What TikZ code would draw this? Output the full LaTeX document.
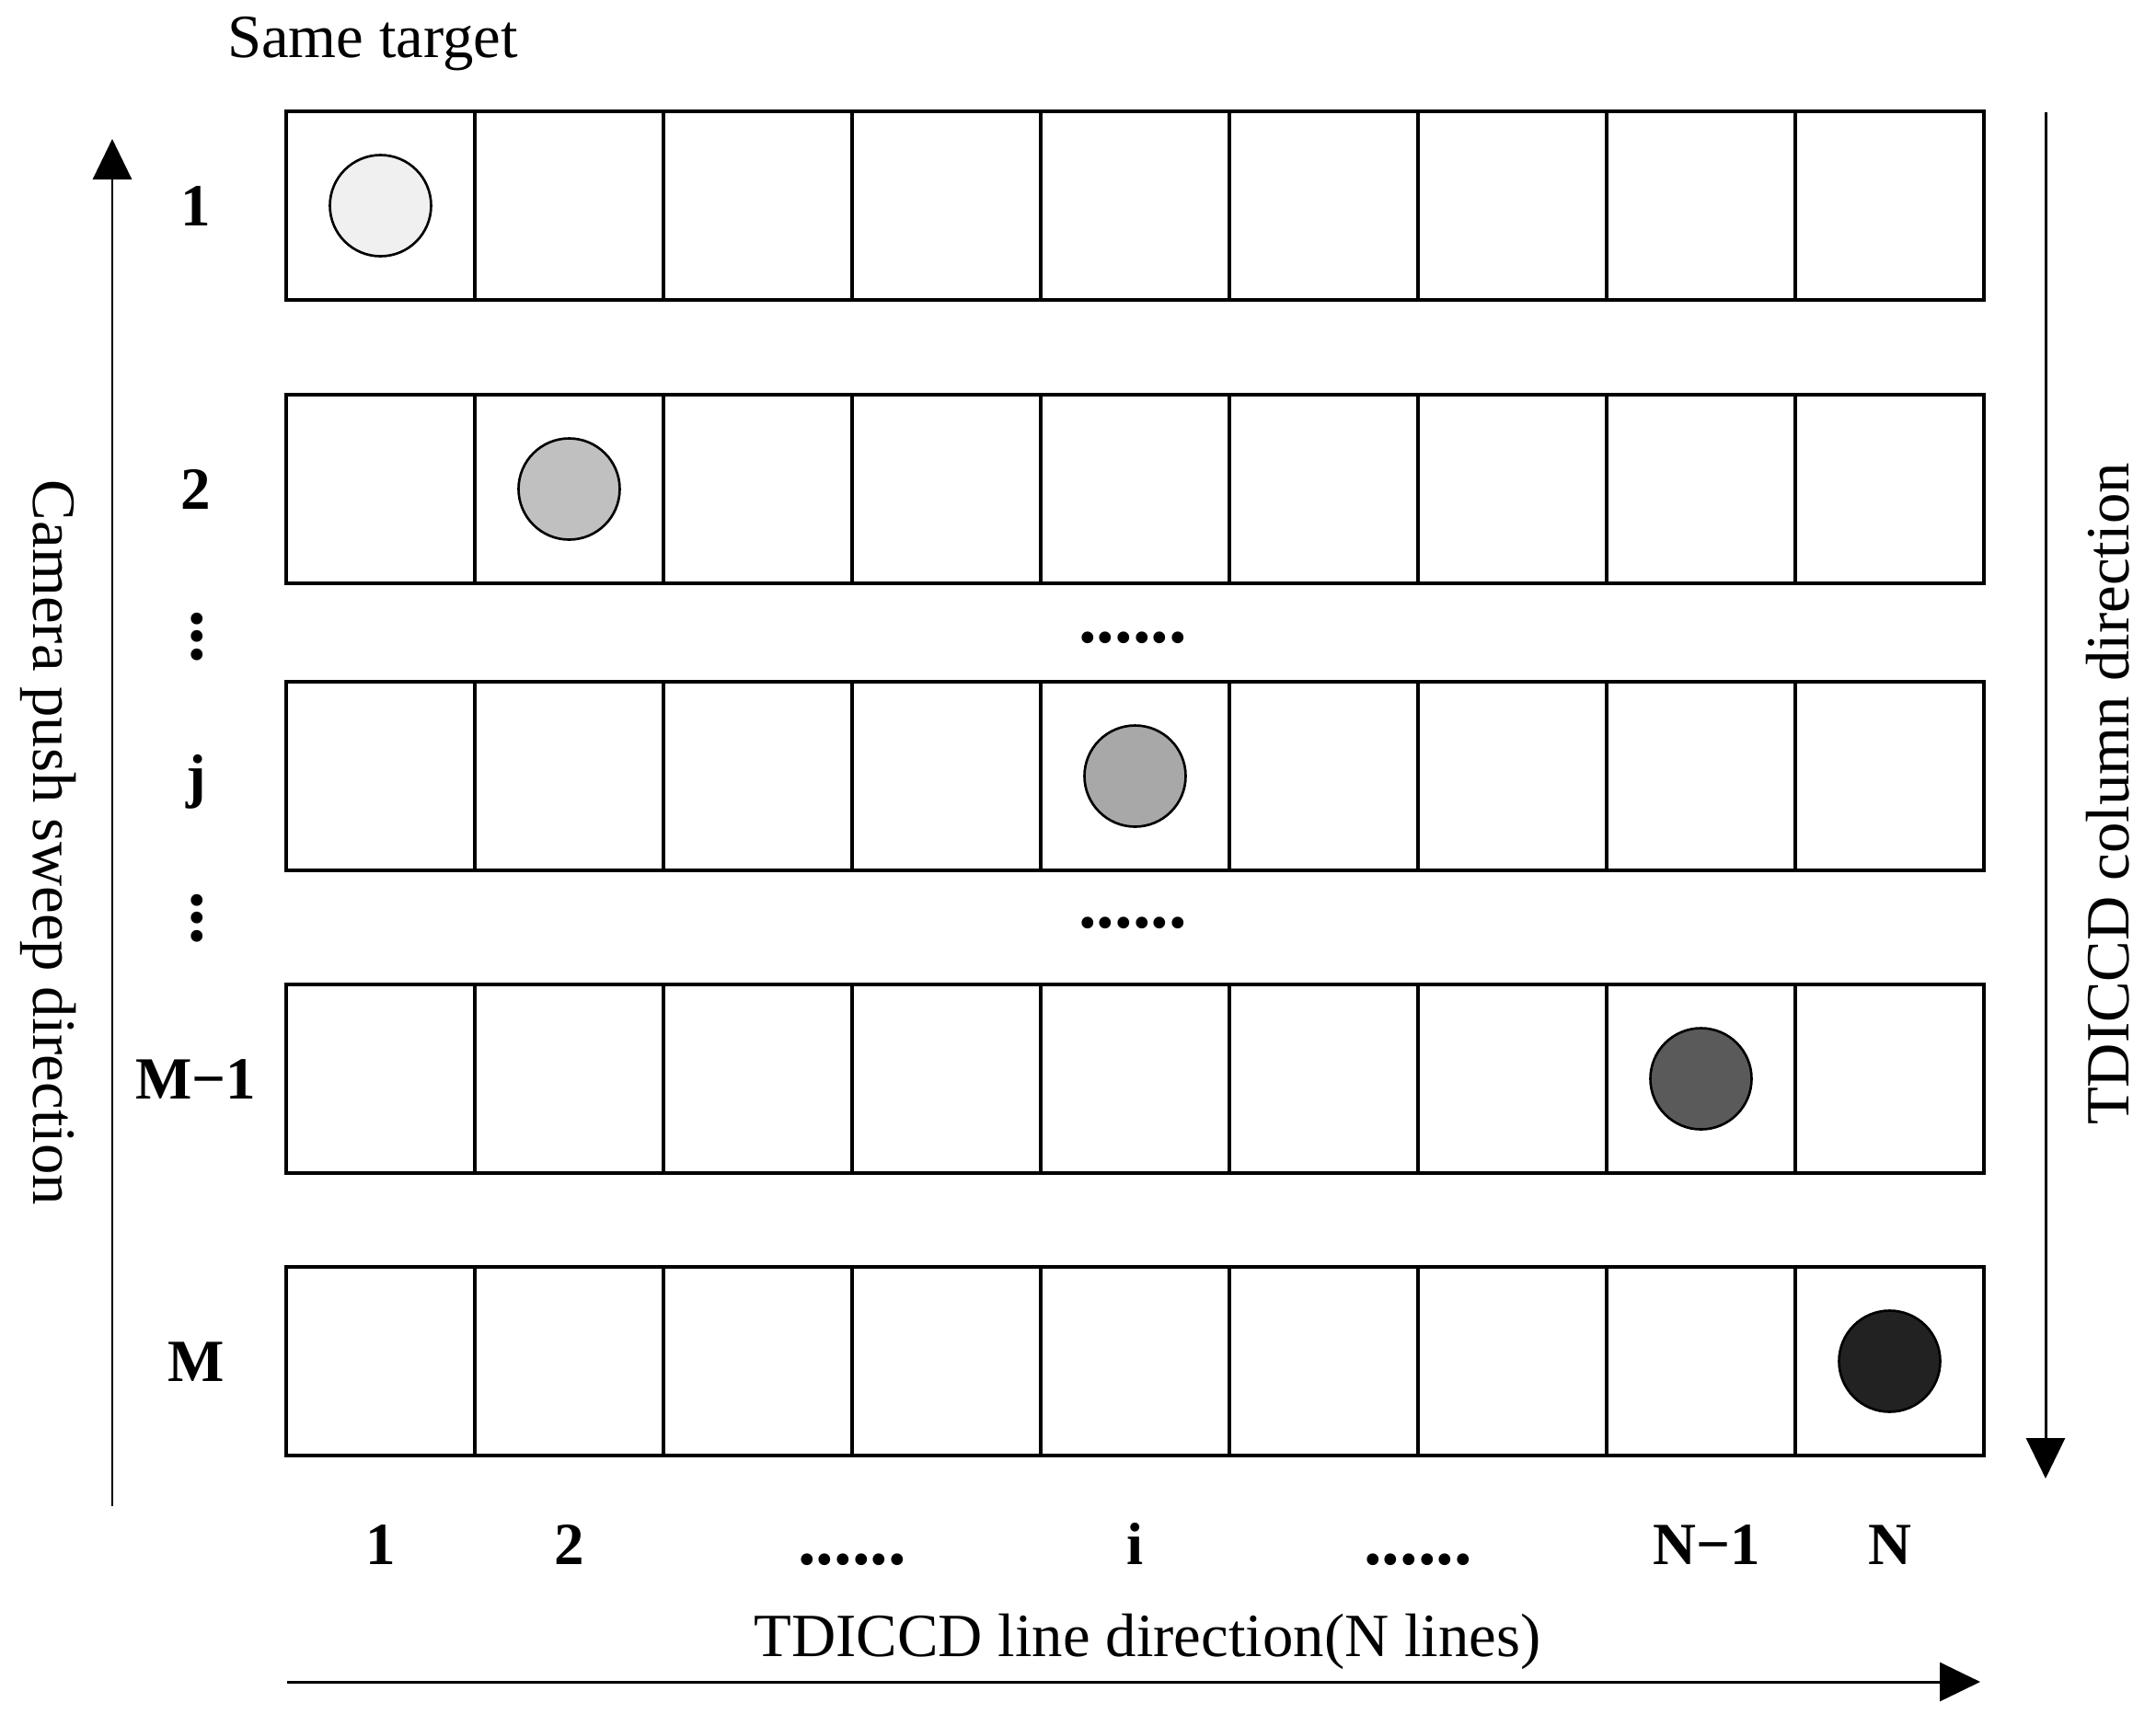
\documentclass[tikz,border=0pt]{standalone}
\usepackage{fontspec}
\setmainfont{Liberation Serif}
\usepackage{tikz}
\usetikzlibrary{arrows.meta, positioning, calc}
\definecolor{spotone}{RGB}{240,240,240}
\definecolor{spottwo}{RGB}{192,192,192}
\definecolor{spotj}{RGB}{168,168,168}
\definecolor{spotmm}{RGB}{90,90,90}
\definecolor{spotm}{RGB}{34,34,34}

\begin{document}
\begin{tikzpicture}[
  cell/.style={draw, rectangle, line width=0.95pt, minimum width=2.05cm, minimum height=2.05cm, inner sep=0pt},
  target/.style={draw, circle, line width=0.75pt, minimum size=1.1cm, inner sep=0pt},
  lab/.style={font=\fontsize{18.5}{20}\selectfont\bfseries, anchor=base, inner sep=0pt},
  txt/.style={font=\fontsize{19}{22}\selectfont, anchor=base, inner sep=0pt},
  dots/.style={font=\fontsize{22.3}{24}\selectfont\bfseries, inner sep=0pt},
  dir/.style={line width=0.85pt, -{Triangle[length=4.4mm, width=4.2mm]}}
]
\useasboundingbox (0,0) rectangle (23.43,-18.75);

% CCD rows: index / centre / label
\foreach \r/\y/\t in {1/-2.235/1, 2/-5.315/2, 3/-8.435/j, 4/-11.725/M−1, 5/-14.795/M}{
  \foreach \c in {1,...,9}{
    \node[cell] (cell-\r-\c) at ({3.11+(\c-0.5)*2.05}, \y) {};
  }
  \node[lab] (rlab-\r) at (2.13, {\y-0.22}) {\t};
}

% the same target moving through the rows
\node[target, fill=spotone] (tgt-1) at (cell-1-1) {};
\node[target, fill=spottwo] (tgt-2) at (cell-2-2) {};
\node[target, fill=spotj] (tgt-3) at (cell-3-5) {};
\node[target, fill=spotmm] (tgt-4) at (cell-4-8) {};
\node[target, fill=spotm] (tgt-5) at (cell-5-9) {};

% skipped rows
\node[dots, rotate=90] (vd-1) at (2.14,-6.92) {...};
\node[dots, rotate=90] (vd-2) at (2.14,-9.98) {...};
\node[dots] (hd-1) at (12.31,-6.93) {......};
\node[dots] (hd-2) at (12.31,-10.03) {......};

% column numbers
\coordinate (colbase) at (0,-17.0);
\coordinate (gap-34) at ($(cell-5-3)!0.5!(cell-5-4)$);
\coordinate (gap-67) at ($(cell-5-6)!0.5!(cell-5-7)$);
\node[lab] (clab-1) at (cell-5-1 |- colbase) {1};
\node[lab] (clab-2) at (cell-5-2 |- colbase) {2};
\node[lab, font=\fontsize{22.3}{24}\selectfont\bfseries] (clab-3) at (gap-34 |- colbase) {......};
\node[lab] (clab-5) at (cell-5-5 |- colbase) {i};
\node[lab, font=\fontsize{22.3}{24}\selectfont\bfseries] (clab-6) at (gap-67 |- colbase) {......};
\node[lab] (clab-8) at ([xshift=0.06cm]cell-5-8 |- colbase) {N−1};
\node[lab] (clab-9) at (cell-5-9 |- colbase) {N};

% directions
\node[txt] (same) at (4.05,-0.62) {Same target};
\node[txt] (linedir) at (12.47,-18.0) {TDICCD line direction(N lines)};
\node[txt, rotate=-90] (pushdir) at (0.36,-9.16) {Camera push sweep direction};
\node[txt, rotate=90] (coldir) at (23.13,-8.63) {TDICCD column direction};

\coordinate (push-s) at (1.22,-16.37);
\coordinate (push-e) at (1.22,-1.51);
\coordinate (col-s) at (22.23,-1.22);
\coordinate (col-e) at (22.23,-16.07);
\coordinate (line-s) at (3.12,-18.28);
\coordinate (line-e) at (21.52,-18.28);
\draw[dir] (push-s) -- (push-e);
\draw[dir] (col-s) -- (col-e);
\draw[dir] (line-s) -- (line-e);
\end{tikzpicture}
\end{document}
